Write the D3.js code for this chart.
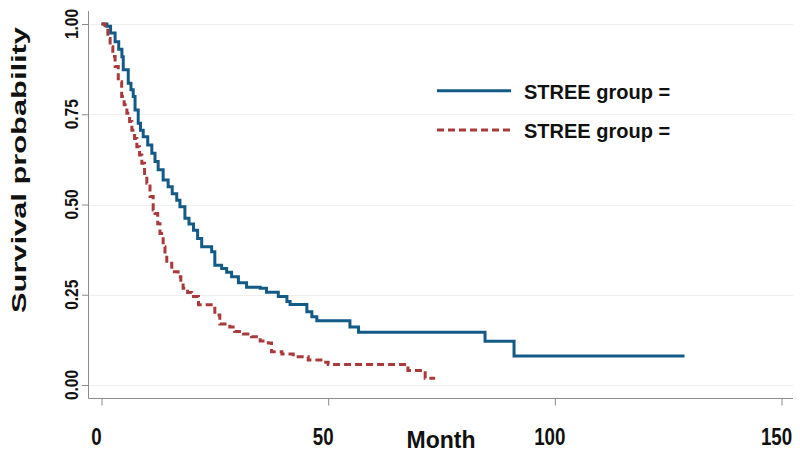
<!DOCTYPE html>
<html>
<head>
<meta charset="utf-8">
<script src="https://cdn.jsdelivr.net/npm/d3@7"></script>
<style>
  html, body { margin: 0; padding: 0; background: #fff; }
  svg { display: block; font-family: "Liberation Sans", Arial, sans-serif; }
</style>
</head>
<body>
<svg id="chart" width="800" height="453"></svg>
<script>
// ---- data ----
const blueTimes = [0, 1.2, 2.0, 3.0, 3.8, 4.5, 4.8, 5.9, 6.5, 7.0, 7.4, 8.1, 8.6, 9.2, 10.2, 11.1, 11.8, 12.5, 13.6, 14.7, 15.6, 16.6, 17.3, 18.4, 19.3, 20.3, 21.2, 22.1, 24.3, 25.0, 26.5, 27.6, 28.7, 30.2, 32.0, 35.0, 36.4, 39.0, 40.9, 41.6, 45.3, 46.4, 47.5, 54.8, 56.7, 84.6, 91.0, 128.6];
const blueSurv  = [1.0, 0.994, 0.975, 0.951, 0.930, 0.909, 0.873, 0.836, 0.818, 0.799, 0.762, 0.725, 0.706, 0.688, 0.665, 0.642, 0.619, 0.596, 0.568, 0.549, 0.530, 0.512, 0.494, 0.462, 0.446, 0.429, 0.406, 0.383, 0.369, 0.332, 0.323, 0.312, 0.300, 0.283, 0.271, 0.268, 0.257, 0.245, 0.231, 0.223, 0.203, 0.189, 0.178, 0.161, 0.146, 0.121, 0.080, 0.080];

const redTimes = [0, 0.8, 1.4, 1.9, 2.5, 3.0, 3.7, 4.45, 5.0, 5.6, 6.2, 6.7, 7.3, 7.8, 8.4, 8.9, 9.5, 10.0, 10.7, 11.4, 11.8, 12.4, 12.9, 13.6, 14.0, 14.4, 15.5, 16.9, 17.5, 18.0, 19.0, 19.9, 21.4, 25.0, 26.1, 28.3, 29.4, 31.3, 33.1, 35.0, 36.8, 37.5, 39.8, 42.3, 45.6, 48.9, 50.0, 67.6, 71.4, 73.6];
const redSurv  = [1.0, 0.983, 0.960, 0.937, 0.910, 0.882, 0.840, 0.799, 0.776, 0.753, 0.730, 0.706, 0.683, 0.660, 0.637, 0.614, 0.586, 0.559, 0.522, 0.485, 0.475, 0.447, 0.420, 0.383, 0.360, 0.337, 0.314, 0.300, 0.284, 0.268, 0.256, 0.245, 0.222, 0.194, 0.169, 0.161, 0.148, 0.141, 0.134, 0.122, 0.116, 0.092, 0.086, 0.078, 0.069, 0.063, 0.057, 0.040, 0.019, 0.019];

const xTicks = [0, 50, 100, 150];
const yTicks = [0, 0.25, 0.5, 0.75, 1.0];
const yTickLabels = ["0.00", "0.25", "0.50", "0.75", "1.00"];
const legendLabels = ["STREE group =", "STREE group ="];

// ---- layout ----
const svg = d3.select("#chart");
const x = d3.scaleLinear().domain([0, 150]).range([101.5, 781.5]);
const y = d3.scaleLinear().domain([0, 1]).range([385, 24]);
const axisColor = "#8c8c8c";
const blue = "#135a86";
const red = "#a83a3c";
const axisLeftX = 88.5, axisBottomY = 398.5;

// gridlines
svg.append("g").selectAll("line").data(yTicks).join("line")
  .attr("x1", axisLeftX).attr("x2", 793)
  .attr("y1", d => Math.round(y(d)) + 0.5).attr("y2", d => Math.round(y(d)) + 0.5)
  .attr("stroke", "#efefef").attr("stroke-width", 1);

// y axis (ticks via d3 axis)
const yAxis = svg.append("g").attr("transform", `translate(${axisLeftX},0)`)
  .call(d3.axisLeft(y).tickValues(yTicks).tickSize(6.5).tickFormat(""));
yAxis.select(".domain").remove();
yAxis.selectAll(".tick line").attr("stroke", axisColor);
svg.append("line").attr("x1", axisLeftX).attr("x2", axisLeftX).attr("y1", 11).attr("y2", axisBottomY)
  .attr("stroke", axisColor).attr("stroke-width", 1);

// y tick labels (rotated)
svg.append("g").selectAll("text").data(yTicks).join("text")
  .attr("transform", d => `translate(77.5,${y(d)}) rotate(-90)`)
  .attr("text-anchor", "middle")
  .attr("font-size", 18).attr("font-weight", "bold").attr("fill", "#111")
  .attr("textLength", 30).attr("lengthAdjust", "spacingAndGlyphs")
  .text((d, i) => yTickLabels[i]);

// x axis
const xAxis = svg.append("g").attr("transform", `translate(0,${axisBottomY})`)
  .call(d3.axisBottom(x).tickValues(xTicks).tickSize(7).tickFormat(""));
xAxis.select(".domain").remove();
xAxis.selectAll(".tick line").attr("stroke", axisColor);
svg.append("line").attr("x1", axisLeftX).attr("x2", 793).attr("y1", axisBottomY).attr("y2", axisBottomY)
  .attr("stroke", axisColor).attr("stroke-width", 1);

// x tick labels (condensed)
svg.append("g").selectAll("text").data(xTicks).join("text")
  .attr("x", d => x(d) - 5).attr("y", 445)
  .attr("text-anchor", "middle")
  .attr("font-size", 24).attr("font-weight", "bold").attr("fill", "#111")
  .text(d => d)
  .each(function() {
    const L = this.getComputedTextLength();
    d3.select(this).attr("textLength", L * 0.78).attr("lengthAdjust", "spacingAndGlyphs");
  });

// axis titles
svg.append("text").attr("x", 441).attr("y", 447.5).attr("text-anchor", "middle")
  .attr("font-size", 24).attr("font-weight", "bold").attr("fill", "#111")
  .attr("textLength", 69).attr("lengthAdjust", "spacingAndGlyphs")
  .text("Month");
svg.append("text").attr("transform", "translate(26,170) rotate(-90)").attr("text-anchor", "middle")
  .attr("font-size", 20).attr("font-weight", "bold").attr("fill", "#111")
  .attr("textLength", 286).attr("lengthAdjust", "spacingAndGlyphs")
  .text("Survival probability");

// curves
const line = d3.line().x(d => x(d[0])).y(d => y(d[1])).curve(d3.curveStepAfter);
const blueData = blueTimes.map((t, i) => [t, blueSurv[i]]);
const redData = redTimes.map((t, i) => [t, redSurv[i]]);
svg.append("path").datum(blueData).attr("d", line)
  .attr("fill", "none").attr("stroke", blue).attr("stroke-width", 3);
svg.append("path").datum(redData).attr("d", line)
  .attr("fill", "none").attr("stroke", red).attr("stroke-width", 3)
  .attr("stroke-dasharray", "7,4");

// legend
const legendY = [90.7, 130];
const legendStyles = [{c: blue, dash: null}, {c: red, dash: "7,4"}];
const lg = svg.append("g");
legendLabels.forEach((lab, i) => {
  lg.append("line").attr("x1", 437).attr("x2", 511).attr("y1", legendY[i]).attr("y2", legendY[i])
    .attr("stroke", legendStyles[i].c).attr("stroke-width", 3)
    .attr("stroke-dasharray", legendStyles[i].dash);
  lg.append("text").attr("x", 524).attr("y", legendY[i] + 8)
    .attr("font-size", 20).attr("font-weight", "bold").attr("fill", "#111")
    .text(lab);
});
</script>
</body>
</html>
